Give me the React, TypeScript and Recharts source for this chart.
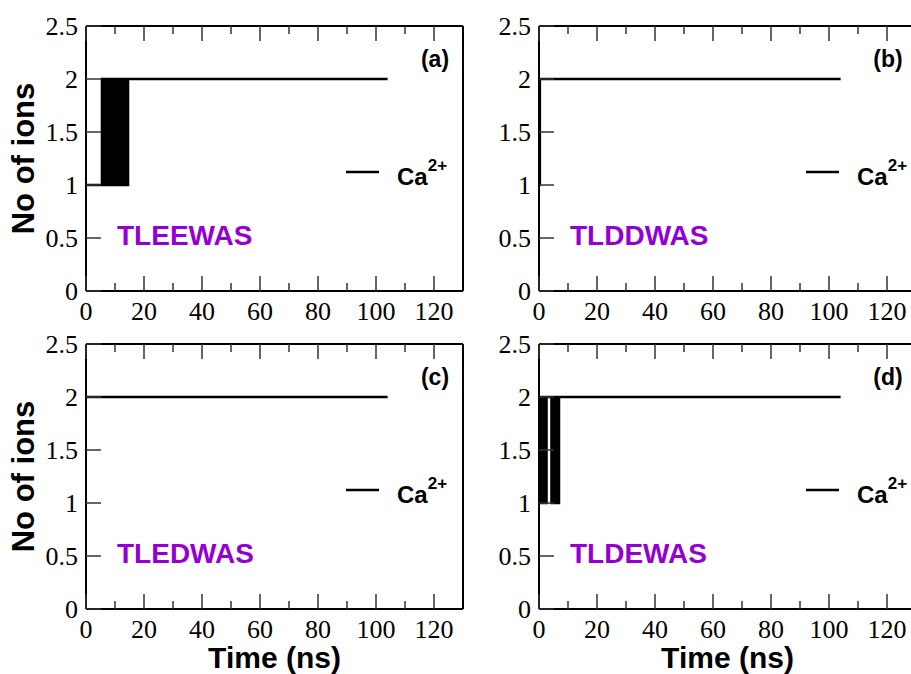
import { LineChart, Line, XAxis, YAxis } from "recharts";

// x ticks every 10 ns (labels only on the 20s), y ticks every 0.5
const X_TICKS = [0, 10, 20, 30, 40, 50, 60, 70, 80, 90, 100, 110, 120];
const Y_TICKS = [0, 0.5, 1, 1.5, 2, 2.5];

// (a) TLEEWAS: hops between 1 and 2 ions from ~5.5 to ~14.5 ns
const timeA = [0, 5.5, 5.8, 6.1, 6.3, 6.6, 6.9, 7.2, 7.4, 7.7, 8.0, 8.3, 8.5, 8.8, 9.1, 9.4, 9.6, 9.9, 10.2, 10.5, 10.7, 11.0, 11.3, 11.6, 11.8, 12.1, 12.4, 12.9, 13.3, 13.7, 14.1, 14.5, 104];
const ionsA = [1, 2, 1, 2, 1, 2, 1, 2, 1, 2, 1, 2, 1, 2, 1, 2, 1, 2, 1, 2, 1, 2, 1, 2, 1, 2, 1, 2, 1, 2, 1, 2, 2];

// (b) TLDDWAS
const timeB = [0, 0.3, 104];
const ionsB = [1, 2, 2];

// (c) TLEDWAS
const timeC = [0, 104];
const ionsC = [2, 2];

// (d) TLDEWAS: two short bursts near the start
const timeD = [0, 0.3, 0.6, 0.9, 1.2, 1.4, 1.7, 2.0, 2.3, 2.6, 4.3, 4.6, 4.9, 5.2, 5.5, 5.8, 6.1, 6.4, 6.6, 6.9, 104];
const ionsD = [1, 2, 1, 2, 1, 2, 1, 2, 1, 2, 1, 2, 1, 2, 1, 2, 1, 2, 1, 2, 2];

const PANEL_TAGS = ["(a)", "(b)", "(c)", "(d)"];
const PEPTIDES = ["TLEEWAS", "TLDDWAS", "TLEDWAS", "TLDEWAS"];
const SERIES = [
  [timeA, ionsA],
  [timeB, ionsB],
  [timeC, ionsC],
  [timeD, ionsD],
];

const PLOT_W = 377;
const PLOT_H = 265;
const COL_X = [86, 539];
const ROW_Y = [26, 344];
// outer space around the plot box; each axis takes 1px of it
const PAD = { top: 22, right: 10, bottom: 50, left: 80 };
const M = { top: PAD.top - 1, right: PAD.right - 1, bottom: PAD.bottom - 1, left: PAD.left - 1 };
const LEGEND_SHIFT = [0, 7];

const SERIF = "'Liberation Serif', 'Times New Roman', Times, serif";
const SANS = "'Liberation Sans', Arial, Helvetica, sans-serif";
const PURPLE = "#9400D3";
const TICK_COLOR = "#333";

const tickText = { fontFamily: SERIF, fontSize: 26, fill: "#000" };

// eslint-disable-next-line @typescript-eslint/no-explicit-any
const BottomTick = (props: any) => {
  const { x, y, payload } = props;
  const major = payload.value % 20 === 0;
  return (
    <g>
      <line x1={x} y1={y} x2={x} y2={y - (major ? 15 : 8)} stroke={TICK_COLOR} strokeWidth={1.5} />
      {major && (
        <text x={x} y={y + 29} textAnchor="middle" style={tickText}>
          {payload.value}
        </text>
      )}
    </g>
  );
};

// eslint-disable-next-line @typescript-eslint/no-explicit-any
const TopTick = (props: any) => {
  const { x, y, payload } = props;
  const major = payload.value % 20 === 0;
  return <line x1={x} y1={y} x2={x} y2={y + (major ? 15 : 8)} stroke={TICK_COLOR} strokeWidth={1.5} />;
};

// eslint-disable-next-line @typescript-eslint/no-explicit-any
const LeftTick = (props: any) => {
  const { x, y, payload } = props;
  return (
    <g>
      <line x1={x} y1={y} x2={x + 15} y2={y} stroke={TICK_COLOR} strokeWidth={1.5} />
      <text x={x - 8} y={y + 9} textAnchor="end" style={tickText}>
        {payload.value}
      </text>
    </g>
  );
};

// eslint-disable-next-line @typescript-eslint/no-explicit-any
const RightTick = (props: any) => {
  const { x, y } = props;
  return <line x1={x} y1={y} x2={x - 15} y2={y} stroke={TICK_COLOR} strokeWidth={1.5} />;
};

function Panel({ idx }: { idx: number }) {
  const [times, ions] = SERIES[idx];
  const data = times.map((t, i) => ({ t, ions: ions[i] }));
  const col = idx % 2;
  const row = Math.floor(idx / 2);
  const axisLine = { stroke: "#000", strokeWidth: 2 };

  return (
    <div
      style={{
        position: "absolute",
        left: COL_X[col] - PAD.left,
        top: ROW_Y[row] - PAD.top,
      }}
    >
      <LineChart
        width={PAD.left + PLOT_W + PAD.right}
        height={PAD.top + PLOT_H + PAD.bottom}
        data={data}
        margin={M}
      >
        <XAxis
          dataKey="t"
          type="number"
          domain={[0, 130]}
          ticks={X_TICKS}
          interval={0}
          height={1}
          tickSize={0}
          tickMargin={0}
          axisLine={axisLine}
          tickLine={false}
          tick={BottomTick}
        />
        <XAxis
          xAxisId="top"
          orientation="top"
          dataKey="t"
          type="number"
          domain={[0, 130]}
          ticks={X_TICKS}
          interval={0}
          height={1}
          tickSize={0}
          tickMargin={0}
          axisLine={axisLine}
          tickLine={false}
          tick={TopTick}
        />
        <YAxis
          type="number"
          domain={[0, 2.5]}
          ticks={Y_TICKS}
          interval={0}
          width={1}
          tickSize={0}
          tickMargin={0}
          axisLine={axisLine}
          tickLine={false}
          tick={LeftTick}
        />
        <YAxis
          yAxisId="right"
          orientation="right"
          type="number"
          domain={[0, 2.5]}
          ticks={Y_TICKS}
          interval={0}
          width={1}
          tickSize={0}
          tickMargin={0}
          axisLine={axisLine}
          tickLine={false}
          tick={RightTick}
        />
        <Line
          type="stepAfter"
          dataKey="ions"
          stroke="#000"
          strokeWidth={2.5}
          dot={false}
          activeDot={false}
          isAnimationActive={false}
        />
      </LineChart>
    </div>
  );
}

function Annotations() {
  const bold = { fontFamily: SANS, fontWeight: 700 };
  return (
    <svg
      width={911}
      height={674}
      style={{ position: "absolute", left: 0, top: 0, pointerEvents: "none" }}
    >
      {PEPTIDES.map((name, idx) => {
        const col = idx % 2;
        const row = Math.floor(idx / 2);
        const L = COL_X[col];
        const T = ROW_Y[row];
        const s = LEGEND_SHIFT[col];
        return (
          <g key={name}>
            <text x={L + 349} y={T + 41} textAnchor="middle" style={{ ...bold, fontSize: 23 }}>
              {PANEL_TAGS[idx]}
            </text>
            <text x={L + 31} y={T + 219} style={{ ...bold, fontSize: 28, fill: PURPLE }}>
              {name}
            </text>
            <line x1={L + 260 + s} y1={T + 146} x2={L + 293 + s} y2={T + 146} stroke="#000" strokeWidth={2.5} />
            <text x={L + 311 + s} y={T + 159} style={{ ...bold, fontSize: 24 }}>
              Ca
              <tspan fontSize={17} dy={-14}>2+</tspan>
            </text>
          </g>
        );
      })}
      {ROW_Y.map((T) => (
        <text
          key={`ylab-${T}`}
          transform={`translate(34, ${T + PLOT_H / 2}) rotate(-90)`}
          textAnchor="middle"
          style={{ ...bold, fontSize: 31 }}
        >
          No of ions
        </text>
      ))}
      {COL_X.map((L) => (
        <text
          key={`xlab-${L}`}
          x={L + PLOT_W / 2}
          y={668}
          textAnchor="middle"
          style={{ ...bold, fontSize: 30 }}
        >
          Time (ns)
        </text>
      ))}
    </svg>
  );
}

export default function App() {
  return (
    <div
      style={{
        position: "absolute",
        left: 0,
        top: 0,
        width: 911,
        height: 674,
        overflow: "hidden",
        background: "#fff",
      }}
    >
      {[0, 1, 2, 3].map((i) => (
        <Panel key={i} idx={i} />
      ))}
      <Annotations />
    </div>
  );
}
